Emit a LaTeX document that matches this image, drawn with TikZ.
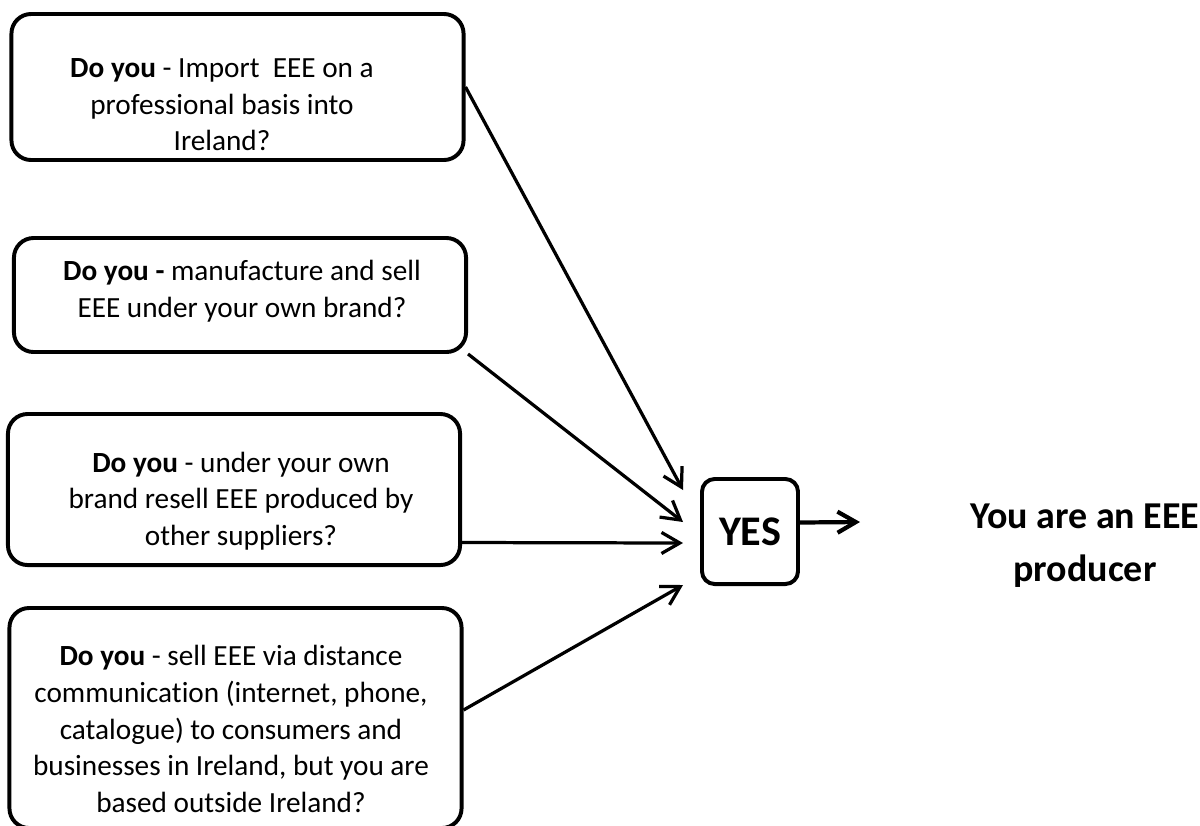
\documentclass[tikz,border=0pt]{standalone}
\usepackage{fontspec}
\setmainfont{Carlito}[Ligatures=NoCommon]
\usetikzlibrary{arrows.meta,calc}

\begin{document}
\begin{tikzpicture}[x=0.025cm,y=-0.025cm,->,>={Straight Barb[length=13pt,width=15pt]},
                    line width=2.3pt]
\tikzstyle{qbox}=[draw=black,line width=2.8pt,rounded corners=14pt,minimum width=11.3cm]
\tikzstyle{qtext}=[align=center,inner sep=0pt]
\tikzset{font=\fontsize{20.8pt}{26pt}\selectfont}

        \useasboundingbox (0,0) rectangle (1200,825);

        % question boxes
        \node[qbox,minimum height=3.65cm]                 (q1)  at (237.5,87)   {};
        \node[qtext]                                      (t1)  at (222,105)    {\textbf{Do you} - Import\ \ EEE on a\\ professional basis into\\ Ireland?};

        \node[qbox,minimum height=2.85cm]                 (q2)  at (240,295)    {};
        \node[qtext]                                      (t2)  at (242,291)    {\textbf{Do you -} manufacture and sell\\ EEE under your own brand?};

        \node[qbox,minimum height=3.775cm]                (q3)  at (234,489.5)  {};
        \node[qtext]                                      (t3)  at (241,501)    {\textbf{Do you} - under your own\\ brand resell EEE produced by\\ other suppliers?};

        \node[qbox,minimum height=5.5cm]                  (q4)  at (235.5,718)  {};
        \node[qtext]                                      (t4)  at (231,729)    {\textbf{Do you} - sell EEE via distance\\ communication (internet, phone,\\ catalogue) to consumers and\\ businesses in Ireland, but you are\\ based outside Ireland?};

        % answer
        \node[draw=black,line width=2.8pt,rounded corners=9pt,minimum width=2.4cm,minimum height=2.625cm,
              font=\fontsize{30pt}{36pt}\selectfont\bfseries]  (yes) at (750,531.5) {YES};
        \node[align=center,font=\fontsize{27pt}{37.7pt}\selectfont\bfseries] (res) at (1085,546) {You are an EEE\\ producer};

        \coordinate (in1) at (683,490);
        \coordinate (in2) at (683,522);
        \coordinate (in3) at (683,543);
        \coordinate (in4) at (683,585);
        \coordinate (out) at (860,522);

        \path[->]
        (q1.east)                  edge  (in1)
        (q2.south east)            edge  (in2)
        ($(q3.east)+(0,53)$)       edge  (in3)
        ($(q4.east)+(0,-8)$)       edge  (in4)
        ($(yes.east)+(0,-9)$)      edge[line width=3pt]  (out)
        ; %end path

\end{tikzpicture}
\end{document}
